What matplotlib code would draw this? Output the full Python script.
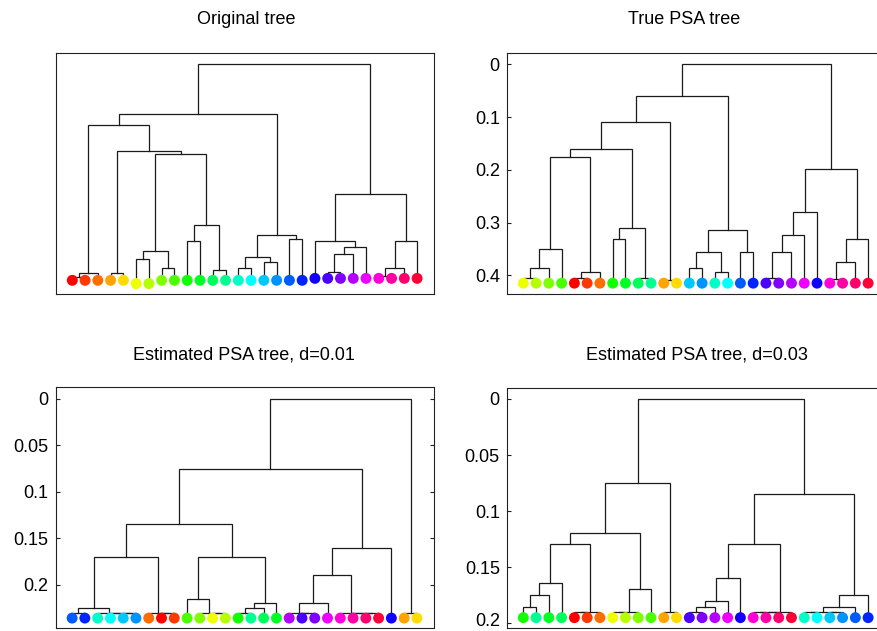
import numpy as np
import matplotlib.pyplot as plt
from matplotlib.colors import hsv_to_rgb
from matplotlib.transforms import ScaledTranslation

plt.rcParams['font.family'] = ['Liberation Sans', 'DejaVu Sans']

N = 28  # leaves per tree, coloured with hsv(i/N)

# ---- tree 1: original tree (leaf order = colour index) ----
order1 = list(range(28))
# merges: (child a, child b, height); leaves are 0..27 (display position), new nodes 28, 29, ...
merges1 = [(0, 1, 0.986), (28, 2, 0.965), (3, 4, 0.965), (5, 6, 0.903), (7, 8, 0.942),
           (31, 32, 0.866), (9, 10, 0.819), (11, 12, 0.952), (34, 35, 0.744), (33, 36, 0.414),
           (30, 37, 0.401), (29, 38, 0.280), (13, 14, 0.942), (15, 16, 0.914), (40, 41, 0.891),
           (17, 18, 0.809), (42, 43, 0.792), (39, 44, 0.231), (20, 21, 0.963), (46, 22, 0.880),
           (47, 23, 0.844), (19, 48, 0.819), (24, 25, 0.980), (50, 26, 0.942), (51, 27, 0.819),
           (49, 52, 0.599), (45, 53, 0.0)]
leafy1 = [1.0] * 5 + [1.015] * 2 + [1.0] * 12 + [0.991] * 9

# ---- tree 2: true PSA tree ----
order2 = [5, 6, 7, 8, 0, 1, 2, 9, 10, 11, 12, 3, 4, 15, 16, 13, 14, 17, 18,
          20, 21, 22, 23, 19, 24, 25, 26, 27]
merges2 = [(0, 1, 0.405), (28, 2, 0.386), (29, 3, 0.350), (4, 5, 0.405), (31, 6, 0.394),
           (30, 32, 0.175), (7, 8, 0.331), (9, 10, 0.405), (34, 35, 0.310), (33, 36, 0.160),
           (11, 12, 0.409), (37, 38, 0.110), (13, 14, 0.386), (15, 16, 0.394), (40, 41, 0.355),
           (17, 18, 0.355), (42, 43, 0.315), (39, 44, 0.060), (19, 20, 0.405), (46, 21, 0.355),
           (47, 22, 0.324), (48, 23, 0.281), (24, 25, 0.408), (50, 26, 0.374), (51, 27, 0.331),
           (49, 52, 0.199), (45, 53, 0.0)]
leafy2 = [0.415] * 28

# ---- tree 3: estimated PSA tree, d=0.01 ----
order3 = [17, 18, 13, 14, 15, 16, 2, 0, 1, 8, 7, 5, 6, 9, 12, 11, 10,
          22, 20, 21, 23, 24, 25, 26, 27, 19, 3, 4]
merges3 = [(0, 1, 0.231), (4, 5, 0.231), (3, 29, 0.231), (2, 30, 0.231), (28, 31, 0.2256),
           (7, 8, 0.231), (6, 33, 0.231), (32, 34, 0.170), (11, 12, 0.231), (10, 36, 0.231),
           (9, 37, 0.215), (13, 14, 0.231), (39, 15, 0.2256), (40, 16, 0.2202), (38, 41, 0.170),
           (35, 42, 0.135), (18, 19, 0.231), (17, 44, 0.231), (45, 20, 0.2202), (23, 24, 0.231),
           (22, 47, 0.231), (21, 48, 0.231), (46, 49, 0.190), (50, 25, 0.160), (43, 51, 0.0751),
           (26, 27, 0.231), (52, 53, 0.0)]
leafy3 = [0.236] * 28

# ---- tree 4: estimated PSA tree, d=0.03 ----
order4 = [9, 12, 10, 11, 0, 1, 2, 5, 6, 7, 8, 3, 4, 20, 21, 22, 23, 19,
          24, 25, 26, 27, 13, 14, 15, 16, 17, 18]
merges4 = [(0, 1, 0.1853), (28, 2, 0.1751), (29, 3, 0.1644), (4, 5, 0.1897), (31, 6, 0.1897),
           (30, 32, 0.1297), (7, 8, 0.1897), (34, 9, 0.1897), (35, 10, 0.1698), (33, 36, 0.1198),
           (11, 12, 0.1897), (37, 38, 0.0752), (13, 14, 0.1897), (40, 15, 0.1853), (41, 16, 0.1802),
           (42, 17, 0.160), (18, 19, 0.1897), (44, 20, 0.1897), (45, 21, 0.1897), (43, 46, 0.1297),
           (22, 23, 0.1897), (24, 25, 0.1897), (48, 49, 0.1897), (50, 26, 0.1853), (51, 27, 0.1751),
           (47, 52, 0.0847), (39, 53, 0.0)]
leafy4 = [0.195] * 28

titles = ['Original tree', 'True PSA tree',
          'Estimated PSA tree, d=0.01', 'Estimated PSA tree, d=0.03']
ticks2 = [0, 0.1, 0.2, 0.3, 0.4]
ticklabels2 = ['0', '0.1', '0.2', '0.3', '0.4']
ticks34 = [0, 0.05, 0.1, 0.15, 0.2]
ticklabels34 = ['0', '0.05', '0.1', '0.15', '0.2']

W, H = 878, 631
fig = plt.figure(figsize=(W / 100, H / 100), dpi=100)


def add_ax(left, top, right, bottom):
    return fig.add_axes([left / W, 1 - bottom / H, (right - left) / W, (bottom - top) / H])


def draw_tree(ax, order, merges, leafy):
    xs = list(np.arange(1, N + 1, dtype=float))
    ys = list(leafy)
    for a, b, h in merges:
        ax.plot([xs[a], xs[a], xs[b], xs[b]], [ys[a], h, h, ys[b]],
                color='#1a1a1a', lw=0.9, solid_joinstyle='miter', zorder=2)
        xs.append((xs[a] + xs[b]) / 2)
        ys.append(h)
    cols = [hsv_to_rgb((c / N, 1, 1)) for c in order]
    ax.scatter(np.arange(1, N + 1), leafy, s=62, c=cols, linewidths=0, zorder=3)
    ax.set_xlim(-0.3, 29.3)
    ax.set_xticks([])
    for s in ax.spines.values():
        s.set_linewidth(0.8)
        s.set_color('#222222')


axes = [add_ax(55.7, 53.3, 433.7, 293.7), add_ax(506.7, 52.7, 884.7, 293.7),
        add_ax(55.5, 387, 433.5, 628.3), add_ax(506.7, 388, 884.7, 628.3)]
trees = [(order1, merges1, leafy1), (order2, merges2, leafy2),
         (order3, merges3, leafy3), (order4, merges4, leafy4)]
ylims = [(1.062, -0.051), (0.435, -0.022), (0.247, -0.0129), (0.2045, -0.0098)]

for ax, tr, yl in zip(axes, trees, ylims):
    draw_tree(ax, *tr)
    ax.set_ylim(*yl)

axes[0].set_yticks([])
axes[1].set_yticks(ticks2, ticklabels2)
axes[2].set_yticks(ticks34, ticklabels34)
axes[3].set_yticks(ticks34, ticklabels34)
for ax in axes[1:]:
    ax.tick_params(axis='y', direction='in', length=2.6, width=0.8, right=True,
                   labelsize=13, pad=5, color='#222222')

# the last label of the bottom-right panel sits a little higher so it stays inside the figure
last = axes[3].get_yticklabels()[-1]
last.set_transform(last.get_transform() + ScaledTranslation(0, 4 / 100, fig.dpi_scale_trans))

# titles placed at the same spots as in the reference
title_pos = [(246, 20), (684, 20), (244, 355), (697, 355)]
for t, (x, y) in zip(titles, title_pos):
    fig.text(x / W, 1 - y / H, t, ha='center', va='center', fontsize=13)

fig.savefig('out.png', dpi=100)
